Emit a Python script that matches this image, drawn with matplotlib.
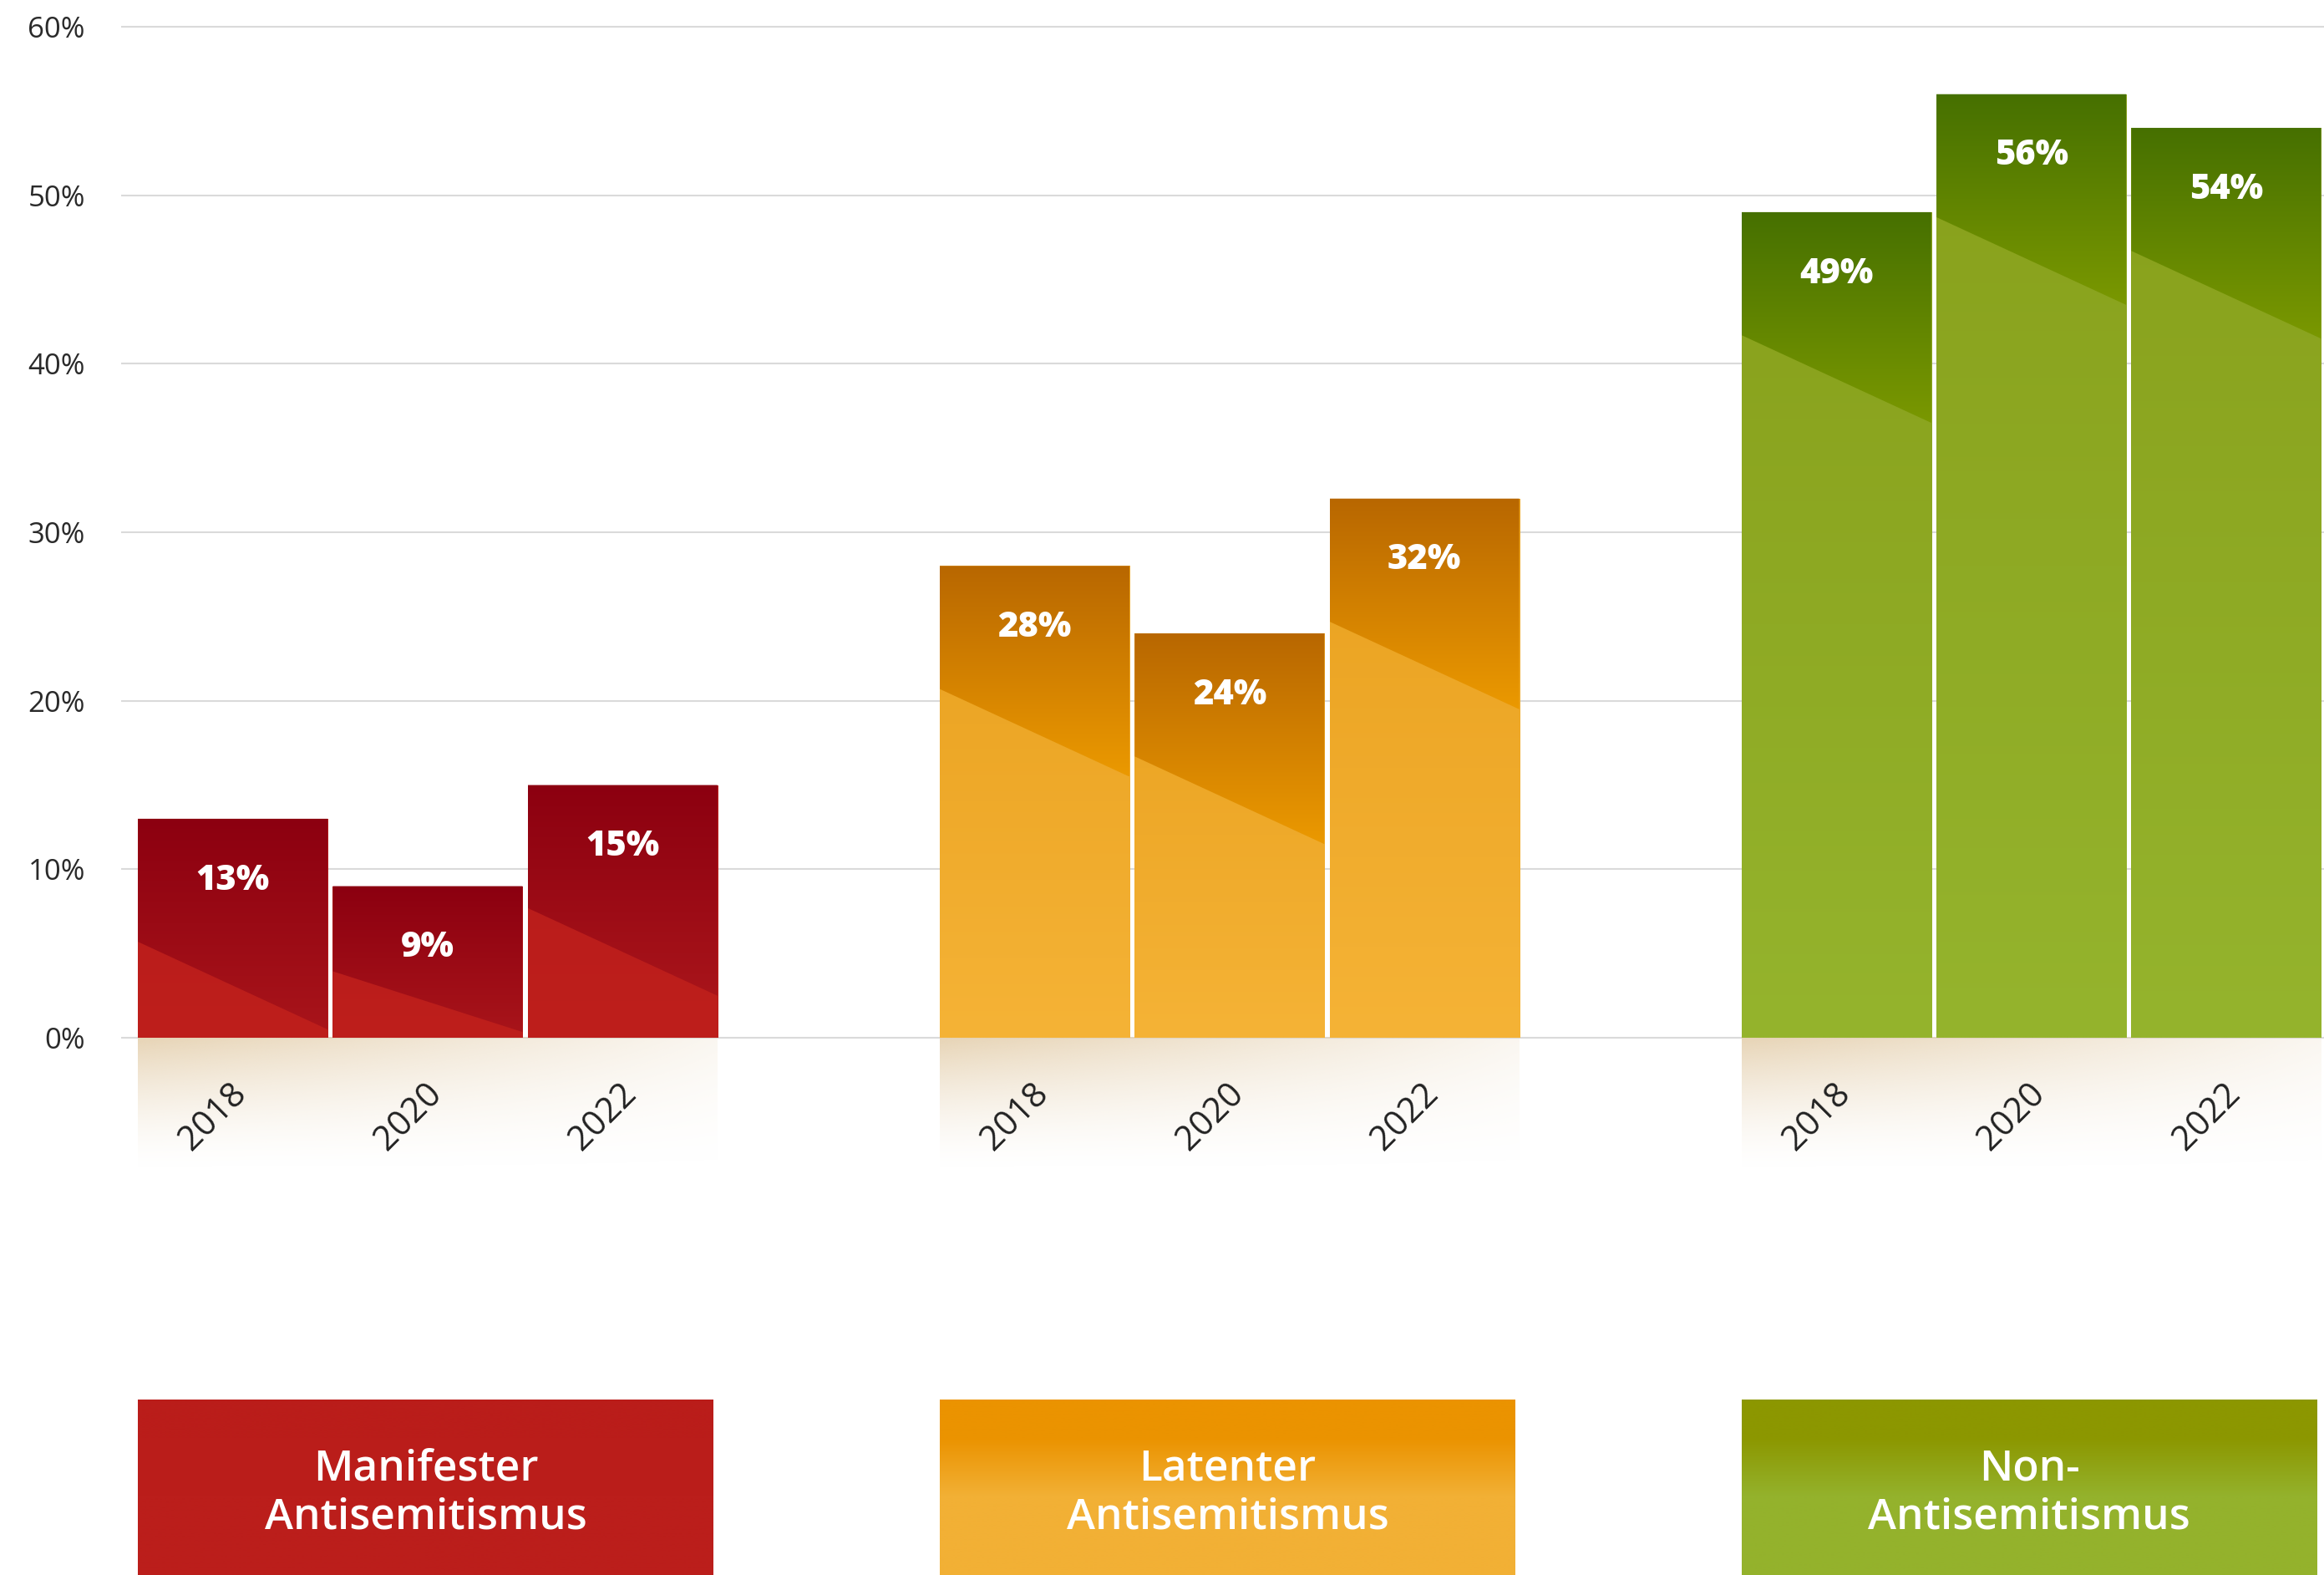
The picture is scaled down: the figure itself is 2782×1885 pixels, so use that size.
import numpy as np
import matplotlib.pyplot as plt
from matplotlib.colors import to_rgb
from matplotlib.patches import Polygon, Rectangle

plt.rcParams['font.family'] = ['Open Sans', 'DejaVu Sans']

# Daten
gruppen = ['Manifester\nAntisemitismus', 'Latenter\nAntisemitismus', 'Non-\nAntisemitismus']
jahre = ['2018', '2020', '2022']
manifest = [13, 9, 15]
latent = [28, 24, 32]
non_anti = [49, 56, 54]
werte = [manifest, latent, non_anti]

# Farben: (dunkel oben, dunkel unten, hell oben, hell unten, box oben, box unten)
farben = [
    ('#8C0010', '#A8141A', '#B71B1B', '#BE1F1C', '#BA1D1A', '#BB1E1B'),
    ('#B86700', '#EB9900', '#E9A11F', '#F5B336', '#EB9300', '#F2B035'),
    ('#467000', '#7A9800', '#88A01B', '#95B42D', '#8C9700', '#94B22C'),
]

GROUP_STEP = 4.114
W = 0.973


def vgrad(c_top, c_bot, n=256, t0=0.0, t1=1.0):
    t = np.linspace(0, 1, n)
    t = np.clip((t - t0) / (t1 - t0), 0, 1)
    a = np.array(to_rgb(c_top))
    b = np.array(to_rgb(c_bot))
    return (a[None, :] * (1 - t[:, None]) + b[None, :] * t[:, None])[:, None, :]


fig = plt.figure(figsize=(27.82, 18.85), dpi=100)
ax = fig.add_axes([145 / 2782, 0, 1 - 145 / 2782, 1])

for g, vals in enumerate(werte):
    d_top, d_bot, l_top, l_bot, b_top, b_bot = farben[g]
    xs = [g * GROUP_STEP + i for i in range(len(vals))]
    bars = ax.bar(xs, vals, width=W, color=l_top, zorder=2)

    for b, v in zip(bars, vals):
        x0 = b.get_x()
        x1 = x0 + b.get_width()
        top = b.get_height()
        im = ax.imshow(vgrad(l_top, l_bot), extent=(x0, x1, 0, top), aspect='auto',
                       interpolation='bilinear', zorder=2.1)
        im.set_clip_path(b)
        # dunkler Keil oben
        d = min(1, v / 13)
        poly = Polygon([(x0, top), (x1, top), (x1, top - 12.5 * d), (x0, top - 7.3 * d)],
                       closed=True, facecolor='none', edgecolor='none')
        ax.add_patch(poly)
        im2 = ax.imshow(vgrad(d_top, d_bot), extent=(x0, x1, top - 12.5 * d, top), aspect='auto',
                        interpolation='bilinear', zorder=2.2)
        im2.set_clip_path(poly)
        ax.annotate(f'{v}%', (b.get_x() + b.get_width() / 2, top), xytext=(0, -53),
                    textcoords='offset points', ha='center', va='center',
                    color='white', fontsize=30, fontweight='heavy', zorder=3)

    gx0 = bars[0].get_x()
    gx1 = bars[-1].get_x() + bars[-1].get_width()

    # beiger Verlauf unter der Achse
    ny, nx = 80, 160
    ty = np.linspace(0, 1, ny)[:, None]
    tx = np.linspace(0, 1, nx)[None, :]
    alpha = 0.95 * (1 - ty) ** 1.6 * (1 - 0.8 * tx)
    img = np.zeros((ny, nx, 4))
    img[..., :3] = to_rgb('#E6D2B2')
    img[..., 3] = alpha
    ax.imshow(img, extent=(gx0, gx1, -8, 0), aspect='auto', interpolation='bilinear', zorder=1.5)

    # Jahreszahlen
    for x, j in zip(xs, jahre):
        ax.text(x - 0.1, -4.7, j, rotation=45, ha='center', va='center',
                fontsize=30, color='#222222', zorder=3)

    # Kategorie-Box
    box_top, box_bot = -21.47, -31.88
    rect = Rectangle((gx0, box_bot), gx1 - gx0 - 0.02, box_top - box_bot,
                     facecolor='none', edgecolor='none')
    ax.add_patch(rect)
    im3 = ax.imshow(vgrad(b_top, b_bot, t0=0.22, t1=0.55),
                    extent=(gx0, gx1 - 0.02, box_bot, box_top), aspect='auto',
                    interpolation='bilinear', zorder=2)
    im3.set_clip_path(rect)
    ax.text((gx0 + gx1 - 0.02) / 2, -27.05, gruppen[g], ha='center', va='center',
            color='white', fontsize=37, fontweight='semibold', linespacing=1.22, zorder=3)

ax.set_xlim(-0.573, 10.73)
ax.set_ylim(-31.88, 61.59)
ax.set_yticks(range(0, 61, 10))
ax.set_yticklabels([f'{t}%' for t in range(0, 61, 10)])
ax.set_xticks([])
ax.tick_params(axis='y', length=0, pad=31, labelsize=25, labelcolor='#2A2A2A')
ax.yaxis.grid(True, color='#DADADA', linewidth=1.5)
ax.set_axisbelow(True)
for s in ax.spines.values():
    s.set_visible(False)

fig.savefig('out.png', dpi=100)
